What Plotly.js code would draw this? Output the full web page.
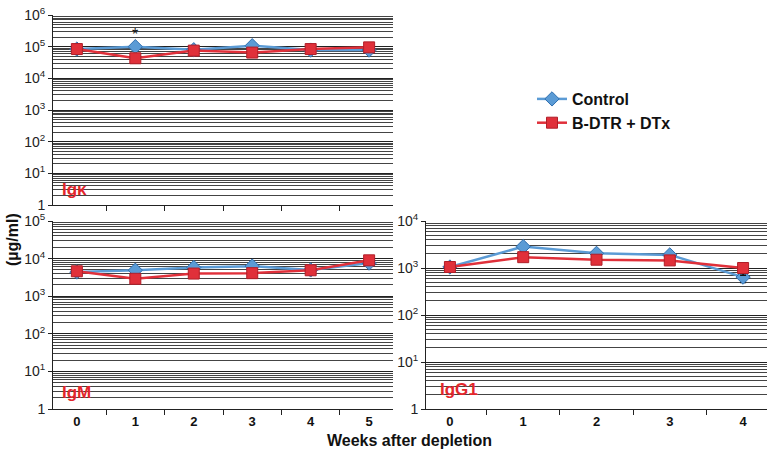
<!DOCTYPE html>
<html><head><meta charset="utf-8">
<script src="https://cdn.plot.ly/plotly-3.0.1.min.js"></script>
<style>html,body{margin:0;padding:0;background:#fff}#c{width:770px;height:453px}</style>
</head><body><div id="c"></div>
<script>
// ---- data ----
const weeksA = ["0","1","2","3","4","5"];
const weeksB = ["0","1","2","3","4"];
const igkControl = [84000, 100000, 80000, 107000, 78000, 78000];
const igkControlErr = [8000, 15000, 10000, 12000, 12000, 12000];
const igkDtr = [84000, 43000, 75000, 65000, 84000, 95000];
const igkDtrErr = [8000, 5000, 8000, 10000, 8000, 8000];
const igmControl = [4400, 4900, 5800, 6300, 5000, 7600];
const igmControlErr = [700, 500, 600, 700, 800, 1200];
const igmDtr = [4600, 2900, 4000, 4100, 4900, 9000];
const igmDtrErr = [600, 300, 500, 500, 600, 900];
const igg1Control = [1050, 2850, 2050, 1900, 640];
const igg1ControlErr = [150, 600, 200, 200, 150];
const igg1Dtr = [1050, 1700, 1500, 1450, 1000];
const igg1DtrErr = [150, 300, 250, 250, 300];
const seriesNames = ["Control", "B-DTR + DTx"];
const panelLabels = ["Igκ", "IgM", "IgG1"];
const xTitle = "Weeks after depletion";
const yTitle = "(µg/ml)";

const W = 770, H = 453;
const px = v => v / W;
const py = v => 1 - v / H;

const blue = "#5B9BD5", blueEdge = "#2F6FB0";
const red = "#E0303A", redEdge = "#B01E28";

function ctrl(x, y, err, xa, ya, show) {
  return {x, y, xaxis: xa, yaxis: ya, type: "scatter", mode: "lines+markers",
    name: seriesNames[0], showlegend: show, legendgroup: "c",
    line: {color: blue, width: 2.5},
    marker: {symbol: "diamond", size: 11, color: blue, line: {color: blueEdge, width: 1}},
    error_y: {type: "data", array: err, visible: true, color: "#111", thickness: 1.5, width: 3}};
}
function dtr(x, y, err, xa, ya, show) {
  return {x, y, xaxis: xa, yaxis: ya, type: "scatter", mode: "lines+markers",
    name: seriesNames[1], showlegend: show, legendgroup: "d",
    line: {color: red, width: 2.5},
    marker: {symbol: "square", size: 11, color: red, line: {color: redEdge, width: 1}},
    error_y: {type: "data", array: err, visible: true, color: "#111", thickness: 1.5, width: 3}};
}

const data = [
  ctrl(weeksA, igkControl, igkControlErr, "x", "y", true),
  ctrl(weeksA, igmControl, igmControlErr, "x2", "y2", false),
  ctrl(weeksB, igg1Control, igg1ControlErr, "x3", "y3", false),
  dtr(weeksA, igkDtr, igkDtrErr, "x", "y", true),
  dtr(weeksA, igmDtr, igmDtrErr, "x2", "y2", false),
  dtr(weeksB, igg1Dtr, igg1DtrErr, "x3", "y3", false)
];

const font = {family: "Liberation Sans, Arial, sans-serif", color: "#111"};

function yax(maxExp, top, bottom) {
  const vals = [], txt = [];
  for (let e = 0; e <= maxExp; e++) {
    vals.push(Math.pow(10, e));
    txt.push(e === 0 ? "1" : "10<sup>" + e + "</sup>");
  }
  return {type: "log", range: [0, maxExp], domain: [py(bottom), py(top)],
    tickvals: vals, ticktext: txt, ticks: "outside", ticklen: 4, tickcolor: "#222",
    showline: true, linecolor: "#222", linewidth: 1,
    showgrid: true, gridcolor: "#222", gridwidth: 1,
    minor: {dtick: "D1", showgrid: true, gridcolor: "#444", gridwidth: 1, ticks: ""},
    tickfont: {family: font.family, size: 14, color: "#222"}, zeroline: false, fixedrange: true};
}
function xax(left, right, anchor, labels) {
  return {type: "category", domain: [px(left), px(right)], anchor,
    tickson: "boundaries", ticks: "outside", ticklen: 5, tickcolor: "#222",
    showline: true, linecolor: "#222", linewidth: 1, showgrid: false,
    showticklabels: labels, tickfont: {family: font.family, size: 13, color: "#111", weight: "bold"}};
}

function ann(text, x, y, size, color, extra) {
  return Object.assign({text, xref: "paper", yref: "paper", x, y, xanchor: "center", yanchor: "middle",
    showarrow: false, font: {family: font.family, size, color}}, extra || {});
}

const layout = {
  width: W, height: H, margin: {l: 0, r: 0, t: 0, b: 0},
  paper_bgcolor: "#fff", plot_bgcolor: "#fff", font,
  showlegend: true,
  legend: {x: px(532), y: py(82), xanchor: "left", yanchor: "top",
    font: {family: font.family, size: 16, color: "#111", weight: "bold"},
    tracegroupgap: 0, bgcolor: "rgba(0,0,0,0)", itemwidth: 30},
  xaxis: xax(53, 393, "y", false),
  yaxis: yax(6, 15, 205),
  xaxis2: xax(53, 393, "y2", true),
  yaxis2: Object.assign(yax(5, 221, 409), {anchor: "x2"}),
  xaxis3: xax(426, 767, "y3", true),
  yaxis3: Object.assign(yax(4, 221, 409), {anchor: "x3"}),
  annotations: [
    ann("<b>" + panelLabels[0] + "</b>", px(60), py(189), 17, "#E3262B", {xanchor: "left"}),
    ann("<b>" + panelLabels[1] + "</b>", px(60), py(392), 17, "#E3262B", {xanchor: "left"}),
    ann("<b>" + panelLabels[2] + "</b>", px(438), py(389), 17, "#E3262B", {xanchor: "left"}),
    ann("*", "1", py(35), 16, "#111", {xref: "x"}),
    ann("<b>" + xTitle + "</b>", px(410), py(440), 16, "#111"),
    ann("<b>" + yTitle + "</b>", px(12), py(240), 16, "#111", {textangle: -90})
  ]
};

Plotly.newPlot("c", data, layout, {staticPlot: true, displayModeBar: false});
</script>
</body></html>
